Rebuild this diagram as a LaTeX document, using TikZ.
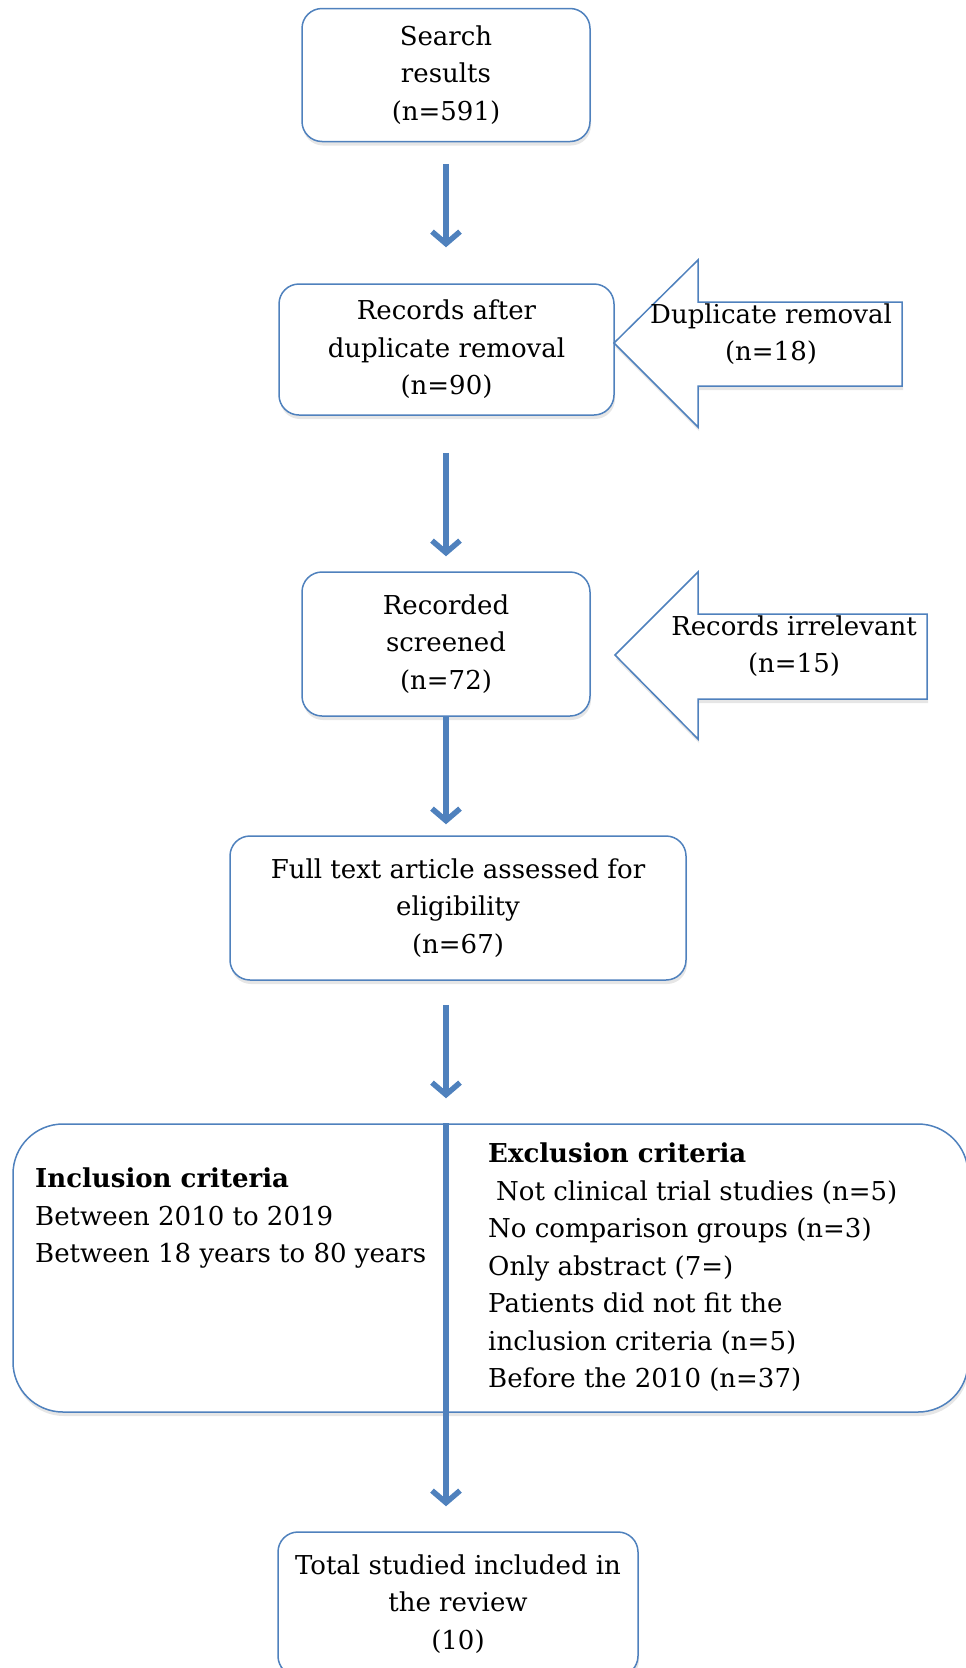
\documentclass[tikz,border=0pt]{standalone}
\usepackage{fontspec}
\setmainfont{DejaVu Serif}
\usetikzlibrary{arrows.meta}
\usetikzlibrary{shadows}

\definecolor{flowblue}{HTML}{4F81BD}

\tikzset{
  flowbox/.style={draw=flowblue, line width=1.5pt, rounded corners=20pt, fill=white,
    align=center, inner sep=0pt,
    drop shadow={shadow xshift=1pt, shadow yshift=-4pt, opacity=0.2}},
  sidearrow/.style={draw=flowblue, line width=1.5pt, fill=white,
    drop shadow={shadow xshift=1pt, shadow yshift=-4pt, opacity=0.2}},
  flowarrow/.style={draw=flowblue, line width=5.5pt, -{Straight Barb[length=12pt,width=28pt]}},
  flowtext/.style={inner sep=0pt, align=left}
}

\begin{document}
\begin{tikzpicture}[x=1pt,y=1pt,font=\fontsize{26}{37.5}\selectfont]
  \useasboundingbox (0,0) rectangle (966,-1668);

  \node[flowbox, minimum width=288pt, minimum height=133pt] (search) at (446,-75) {Search\\results\\(n=591)};
  \node[flowbox, minimum width=335pt, minimum height=131pt] (records) [node distance=274.5pt, below of=search, xshift=0.5pt] {Records after\\duplicate removal\\(n=90)};
  \node[flowbox, minimum width=288pt, minimum height=144pt] (screened) [node distance=294.5pt, below of=records, xshift=-0.5pt] {Recorded\\screened\\(n=72)};
  \node[flowbox, minimum width=456pt, minimum height=144pt] (fulltext) [node distance=264pt, below of=screened, xshift=12pt] {Full text article assessed for\\eligibility\\(n=67)};

  % side arrows
  \draw[sidearrow] (614,-343) -- (698,-260) -- (698,-302) -- (902,-302) -- (902,-386) -- (698,-386) -- (698,-427) -- cycle;
  \node[align=center, inner sep=0pt] (dup) at (771,-334) {Duplicate removal\\(n=18)};
  \draw[sidearrow] (615,-655) -- (698,-572) -- (698,-614) -- (927,-614) -- (927,-699) -- (698,-699) -- (698,-739) -- cycle;
  \node[align=center, inner sep=0pt] (irr) at (794,-646) {Records irrelevant\\(n=15)};

  % criteria box
  \node[flowbox, rounded corners=50pt, minimum width=955pt, minimum height=288pt] (crit) at (490.5,-1268) {};
  \node[flowtext, anchor=north west] (incl) at (35,-1168) {\textbf{Inclusion criteria}\\Between 2010 to 2019\\Between 18 years to 80 years};
  \node[flowtext, anchor=north west] (excl) at (488,-1143) {\textbf{Exclusion criteria}\\\hspace*{8pt}Not clinical trial studies (n=5)\\No comparison groups (n=3)\\Only abstract (7=)\\Patients did not fit the\\inclusion criteria (n=5)\\Before the 2010 (n=37)};

  \node[flowbox, minimum width=360pt, minimum height=144pt] (total) at (458,-1604) {Total studied included in\\the review\\(10)};

  % connectors
  \draw[flowarrow, shorten <=21.5pt, shorten >=36pt] (search.south) -- (search.south |- records.north);
  \draw[flowarrow, shorten <=37pt, shorten >=15pt] (records.south -| search.south) -- (screened.north);
  \draw[flowarrow, shorten >=11pt] (screened.south) -- (screened.south |- fulltext.north);
  \draw[flowarrow, shorten <=24pt, shorten >=25pt] (fulltext.south -| screened.south) -- (crit.north -| screened.south);
  \draw[flowarrow, shorten >=25pt] (crit.north -| screened.south) -- (total.north -| screened.south);
\end{tikzpicture}
\end{document}
